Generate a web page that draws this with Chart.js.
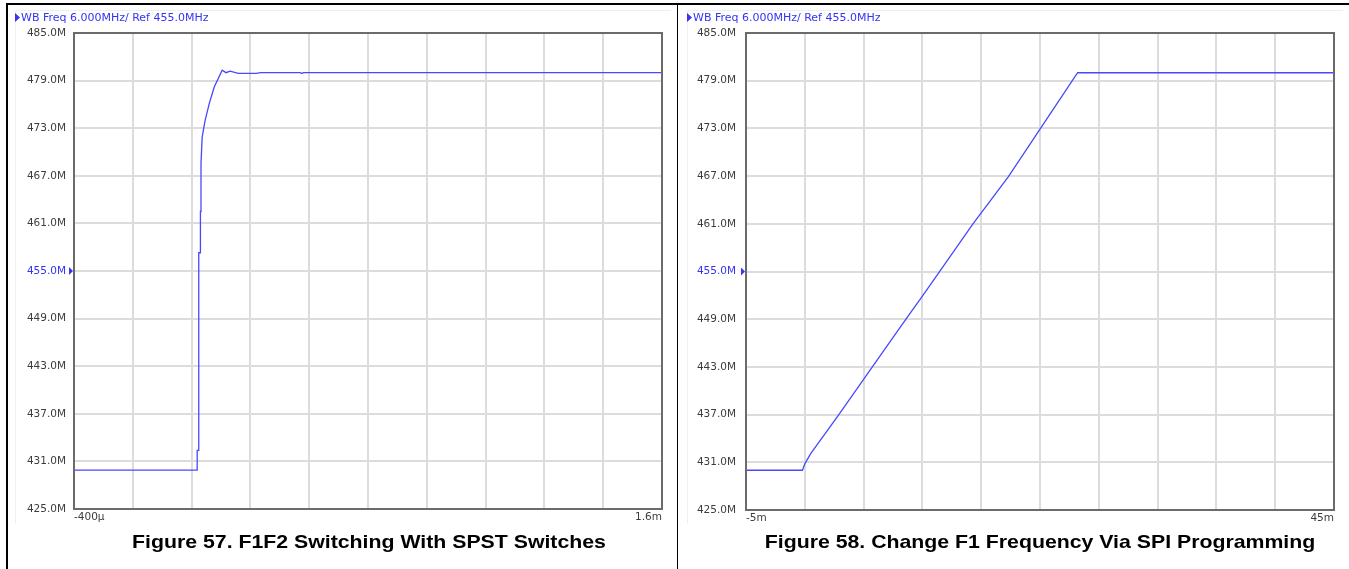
<!DOCTYPE html>
<html>
<head>
<meta charset="utf-8">
<title>F1F2 switching</title>
<script src="https://cdn.jsdelivr.net/npm/chart.js@4.4.0/dist/chart.umd.min.js"></script>
<style>
html,body{margin:0;padding:0;background:#fff;}
#page{position:relative;width:1349px;height:569px;overflow:hidden;}
.rule{position:absolute;background:#000;}
.panel{position:absolute;top:0;}
.caption{position:absolute;top:532px;font:bold 18.5px "Liberation Sans",Arial,sans-serif;line-height:20px;color:#000;white-space:nowrap;transform:translateX(-50%) scaleX(1.15);}
</style>
</head>
<body>
<div id="page">
  <div class="rule" style="left:6px;top:3px;width:1343px;height:2px"></div>
  <div class="rule" style="left:6px;top:3px;width:2px;height:566px"></div>
  <div class="rule" style="left:677px;top:3px;width:1px;height:566px"></div>
  <canvas id="fig57" class="panel" style="left:0" width="677" height="569"></canvas>
  <canvas id="fig58" class="panel" style="left:678px" width="671" height="569"></canvas>
  <div class="caption" style="left:369px">Figure 57. F1F2 Switching With SPST Switches</div>
  <div class="caption" style="left:1040px">Figure 58. Change F1 Frequency Via SPI Programming</div>
</div>
<script>
// Figure 57: time in µs, frequency in MHz
const fig57Time = [-400, 19, 19, 23, 23, 25, 25, 30, 30, 32, 32, 36, 46, 60, 77, 104, 117, 131, 159, 220, 235, 370, 375, 380, 1600];
const fig57Freq = [429.9, 429.9, 432.4, 432.4, 449.9, 449.9, 457.3, 457.3, 462.5, 462.5, 468.6, 471.9, 474.0, 476.1, 478.2, 480.3, 480.0, 480.2, 479.9, 479.9, 480.0, 480.0, 479.9, 480.0, 480.0];
const fig57XLabels = ['-400µ', '1.6m'];

// Figure 58: time in ms, frequency in MHz
const fig58Time = [-5, -0.2, 0.0, 0.5, 2.85, 5.7, 8.6, 10.0, 14.3, 17.3, 23.2, 45];
const fig58Freq = [430.0, 430.0, 430.8, 432.1, 436.9, 442.9, 449.0, 451.9, 461.0, 466.9, 480.0, 480.0];
const fig58XLabels = ['-5m', '45m'];

const freqTicks = [425, 431, 437, 443, 449, 455, 461, 467, 473, 479, 485];
const refFreq = 455;
const headerText = 'WB Freq 6.000MHz/ Ref 455.0MHz';

const BLUE = '#3434f2';
const TRACE = '#4848ff';
const FONT = '"DejaVu Sans", Tahoma, sans-serif';

// frame, ref marker and header text, drawn straight on the canvas
const scopeDecor = {
  id: 'scopeDecor',
  afterDraw(chart, args, opts) {
    const {ctx, chartArea: a} = chart;
    const y = chart.scales.y;
    ctx.save();
    // faint picture edge
    ctx.strokeStyle = '#efefef';
    ctx.lineWidth = 1;
    ctx.beginPath();
    ctx.moveTo(opts.hx + 0.5, 523);
    ctx.lineTo(opts.hx + 0.5, 10.5);
    ctx.lineTo(chart.width - 6, 10.5);
    ctx.stroke();
    // plot box
    ctx.strokeStyle = '#6b6b6b';
    ctx.lineWidth = 2;
    ctx.strokeRect(a.left, a.top, a.right - a.left, a.bottom - a.top);
    // ref level marker
    const ry = y.getPixelForValue(refFreq);
    ctx.fillStyle = BLUE;
    ctx.beginPath();
    ctx.moveTo(a.left - 5, ry - 4);
    ctx.lineTo(a.left - 1, ry);
    ctx.lineTo(a.left - 5, ry + 4);
    ctx.closePath();
    ctx.fill();
    // header
    ctx.beginPath();
    ctx.moveTo(opts.hx, 13);
    ctx.lineTo(opts.hx + 5, 17.5);
    ctx.lineTo(opts.hx, 22);
    ctx.closePath();
    ctx.fill();
    ctx.font = '11px ' + FONT;
    ctx.textBaseline = 'middle';
    ctx.fillText(headerText, opts.hx + 6, 18);
    ctx.restore();
  }
};

function makeScope(id, times, freqs, xMin, xMax, xStep, xLabels, yWidth, yPad, bottomPad, hx) {
  const points = times.map((t, i) => ({x: t, y: freqs[i]}));
  return new Chart(document.getElementById(id), {
    type: 'line',
    data: {
      datasets: [{
        data: points,
        borderColor: TRACE,
        borderWidth: 1.3,
        pointRadius: 0,
        tension: 0,
        fill: false
      }]
    },
    options: {
      responsive: false,
      animation: false,
      devicePixelRatio: 1,
      layout: {padding: {left: 5, top: 33, right: 15, bottom: bottomPad}},
      plugins: {legend: {display: false}, tooltip: {enabled: false}, scopeDecor: {hx}},
      scales: {
        x: {
          type: 'linear',
          min: xMin,
          max: xMax,
          ticks: {
            stepSize: xStep,
            align: 'inner',
            padding: 2,
            maxRotation: 0,
            autoSkip: false,
            color: '#3c3c3c',
            font: {family: FONT, size: 10.5},
            callback: (v, i, ticks) => i === 0 ? xLabels[0] : (i === ticks.length - 1 ? xLabels[1] : '')
          },
          grid: {color: '#dcdcdc', lineWidth: 2, drawTicks: false},
          border: {display: false},
          afterFit: s => { s.height = 20; }
        },
        y: {
          min: freqTicks[0],
          max: freqTicks[freqTicks.length - 1],
          afterBuildTicks: s => { s.ticks = freqTicks.map(v => ({value: v})); },
          ticks: {
            padding: yPad,
            color: c => (c.tick && c.tick.value === refFreq) ? BLUE : '#3c3c3c',
            font: {family: FONT, size: 10.5},
            callback: v => v.toFixed(1) + 'M'
          },
          grid: {color: '#dcdcdc', lineWidth: 2, drawTicks: false},
          border: {display: false},
          afterFit: s => { s.width = yWidth; }
        }
      }
    },
    plugins: [scopeDecor]
  });
}

makeScope('fig57', fig57Time, fig57Freq, -400, 1600, 200, fig57XLabels, 69, 8, 40, 15);
makeScope('fig58', fig58Time, fig58Freq, -5, 45, 5, fig58XLabels, 63, 10, 39, 9);
</script>
</body>
</html>
